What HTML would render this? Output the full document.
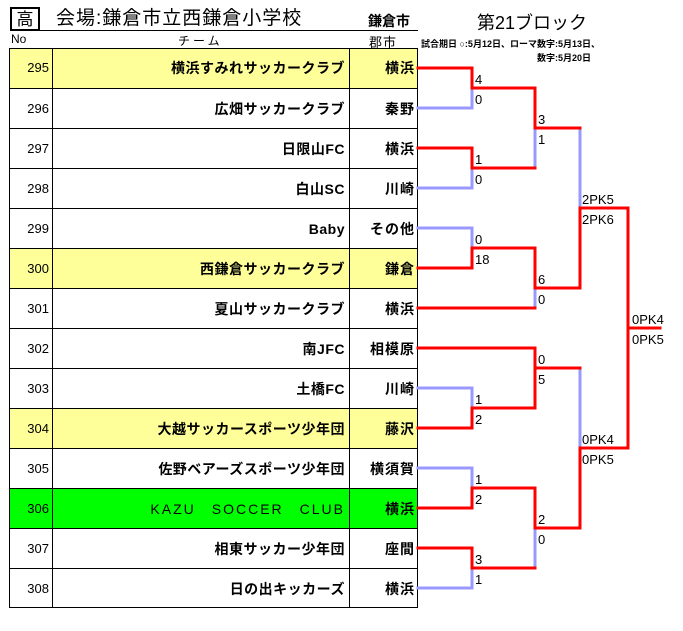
<!DOCTYPE html>
<html><head><meta charset="utf-8"><style>
body{margin:0;width:683px;height:631px;background:#fff;position:relative;overflow:hidden;font-family:"Liberation Sans","Noto Sans CJK JP",sans-serif;}
.a{position:absolute;white-space:nowrap;}
.row{position:absolute;left:9px;width:409px;height:40px;}
.c{position:absolute;top:0;height:40px;line-height:40px;font-size:13px;}
</style></head><body>
<div class="a" style="left:10px;top:7px;width:30px;height:24px;border:2px solid #000;box-sizing:border-box;text-align:center;font-size:17px;line-height:22px;">高</div>
<div class="a" style="left:56px;top:6px;font-size:19px;line-height:26px;letter-spacing:1px;">会場:鎌倉市立西鎌倉小学校</div>
<div class="a" style="left:368px;top:11px;font-size:14px;font-weight:bold;">鎌倉市</div>
<div class="a" style="left:40px;top:30px;width:378px;height:0;border-top:1px solid #000;"></div>
<div class="a" style="left:477px;top:9px;font-size:18px;">第21ブロック</div>
<div class="a" style="left:11px;top:32px;font-size:12px;">No</div>
<div class="a" style="left:178px;top:32px;font-size:12px;letter-spacing:3px;">チーム</div>
<div class="a" style="left:369px;top:32px;font-size:13px;letter-spacing:1px;">郡市</div>
<div class="a" style="left:421px;top:37px;font-size:9px;font-weight:bold;">試合期日 ○:5月12日、ローマ数字:5月13日、</div>
<div class="a" style="left:537px;top:51px;font-size:9px;font-weight:bold;">数字:5月20日</div>

<div id="tbl"></div>
<div class="a" style="left:9px;top:48px;width:409px;height:560px;border:1px solid #000;box-sizing:border-box;"></div>
<div class="a" style="left:52px;top:48px;width:0;height:560px;border-left:1px solid #000;"></div>
<div class="a" style="left:349px;top:48px;width:0;height:560px;border-left:1px solid #000;"></div>

<svg class="a" style="left:0;top:0" width="683" height="631">
<g fill="none" stroke-width="3" stroke-linecap="square">
<g stroke="#9999ff">
<path d="M418 108H472V88"/><path d="M418 188H472V168"/><path d="M418 228H472V248"/><path d="M535 128V168"/><path d="M535 288V308"/>
<path d="M580 128V208"/><path d="M628 208V328"/>
<path d="M535 348V368"/><path d="M418 388H472V408"/><path d="M418 468H472V488"/><path d="M418 588H472V568"/><path d="M535 528V568"/><path d="M580 368V448"/>
</g>
<g stroke="#ff0000">
<path d="M418 68H472V88H535V128H580"/><path d="M418 148H472V168H535"/>
<path d="M418 268H472V248H535V288H580V208H628V328H660"/><path d="M418 308H535"/>
<path d="M418 348H535V368H580"/><path d="M418 428H472V408H535V368"/>
<path d="M418 508H472V488H535V528H580V448H628V328"/><path d="M418 548H472V568H535"/>
</g>
</g>
<g font-size="13" font-family="Liberation Sans, sans-serif" fill="#000">
<text x="475" y="84">4</text><text x="475" y="104">0</text>
<text x="475" y="164">1</text><text x="475" y="184">0</text>
<text x="475" y="244">0</text><text x="475" y="264">18</text>
<text x="475" y="404">1</text><text x="475" y="424">2</text>
<text x="475" y="484">1</text><text x="475" y="504">2</text>
<text x="475" y="564">3</text><text x="475" y="584">1</text>
<text x="538" y="124">3</text><text x="538" y="144">1</text>
<text x="538" y="284">6</text><text x="538" y="304">0</text>
<text x="538" y="364">0</text><text x="538" y="384">5</text>
<text x="538" y="524">2</text><text x="538" y="544">0</text>
<text x="582" y="204">2PK5</text><text x="582" y="224">2PK6</text>
<text x="582" y="444">0PK4</text><text x="582" y="464">0PK5</text>
<text x="632" y="324">0PK4</text><text x="632" y="344">0PK5</text>
</g>
</svg>
<script>
var d=[["295","横浜すみれサッカークラブ","横浜","#ffff99"],["296","広畑サッカークラブ","秦野",""],["297","日限山FC","横浜",""],["298","白山SC","川崎",""],["299","Baby","その他",""],["300","西鎌倉サッカークラブ","鎌倉","#ffff99"],["301","夏山サッカークラブ","横浜",""],["302","南JFC","相模原",""],["303","土橋FC","川崎",""],["304","大越サッカースポーツ少年団","藤沢","#ffff99"],["305","佐野ベアーズスポーツ少年団","横須賀",""],["306","KAZU　SOCCER　CLUB","横浜","#00ff00"],["307","相東サッカー少年団","座間",""],["308","日の出キッカーズ","横浜",""]];
var h="";d.forEach(function(r,i){var t=48+i*40;h+='<div class="row" style="top:'+t+'px;background:'+(r[3]||'#fff')+';border-top:'+(i?'1px solid #000':'none')+';box-sizing:border-box">'+
'<div class="c" style="left:0;width:40px;text-align:right">'+r[0]+'</div>'+
'<div class="c" style="left:44px;width:292px;text-align:right;font-size:14px;font-weight:'+(i==11?'normal':'bold')+';letter-spacing:'+(i==11?'2px':'0.5px')+'">'+r[1]+'</div>'+
'<div class="c" style="left:341px;width:65px;text-align:right;font-size:14px;font-weight:bold;letter-spacing:1px">'+r[2]+'</div></div>';});
document.getElementById('tbl').innerHTML=h;
</script>
</body></html>
